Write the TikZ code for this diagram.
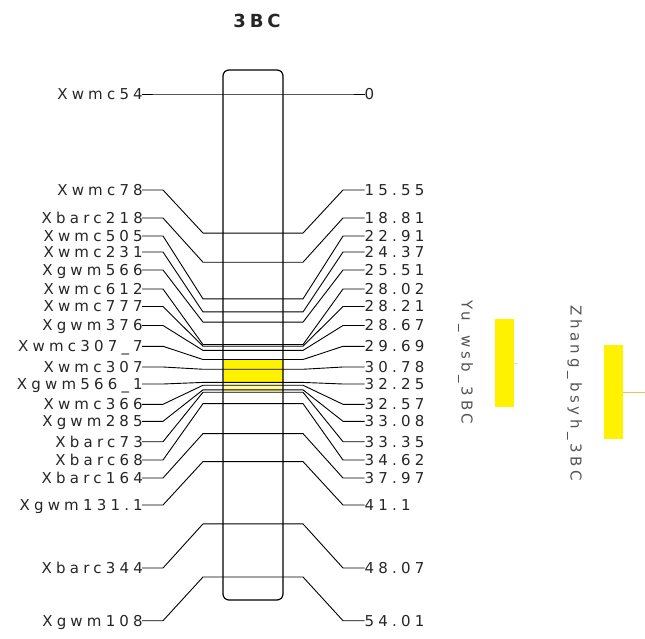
\documentclass[tikz,border=0pt]{standalone}
\usepackage{fontspec}
\newfontfamily\lblfont[LetterSpace=28]{DejaVu Sans}
\newfontfamily\qtlfont[LetterSpace=24]{DejaVu Sans}
\newfontfamily\ttlfont[LetterSpace=22]{DejaVu Sans}
\definecolor{qtlline}{RGB}{215,205,90}
\definecolor{qtltext}{RGB}{85,85,85}
\tikzset{
  lbl/.style={font=\lblfont\fontsize{15}{15}\selectfont, inner sep=0pt, text height=10.9pt, text depth=0pt, text=black!85},
  link/.style={line width=0.9pt, black},
  qtllbl/.style={font=\qtlfont\fontsize{15}{15}\selectfont, inner sep=0pt, text=qtltext, rotate=-90, anchor=west},
}
\begin{document}
\begin{tikzpicture}[x=1pt,y=-1pt]
\useasboundingbox[fill=white] (0,0) rectangle (645,639);
% title
\node[font=\ttlfont\bfseries\fontsize{18}{18}\selectfont, inner sep=0pt, text=black!85] (title) at (257,21) {3BC};
% yellow QTL on chromosome
\fill[yellow] (223.5,359.5) rectangle (282.5,382.4);
\fill[yellow!35] (223.5,382.4) rectangle (282.5,392);
% markers
\foreach \i/\nm/\cm/\ly in {
  1/Xwmc54/0/94,
  2/Xwmc78/15.55/190,
  3/Xbarc218/18.81/218,
  4/Xwmc505/22.91/236,
  5/Xwmc231/24.37/252,
  6/Xgwm566/25.51/270,
  7/Xwmc612/28.02/289,
  8/Xwmc777/28.21/306.5,
  9/Xgwm376/28.67/325.5,
  10/{Xwmc307\_7}/29.69/346.3,
  11/Xwmc307/30.78/367,
  12/{Xgwm566\_1}/32.25/384,
  13/Xwmc366/32.57/404.3,
  14/Xgwm285/33.08/421.3,
  15/Xbarc73/33.35/441.7,
  16/Xbarc68/34.62/460,
  17/Xbarc164/37.97/478,
  18/Xgwm131.1/41.1/505,
  19/Xbarc344/48.07/568,
  20/Xgwm108/54.01/620.7}{
  \pgfmathsetmacro\by{94+8.943*\cm}
  \node[lbl, anchor=east] (l\i) at (143,\ly) {\nm};
  \node[lbl, anchor=west] (r\i) at (364.5,\ly) {\cm};
  \draw[link] ([xshift=-1pt]l\i.east) -- ++(21,0) -- (203,\by) -- (303,\by) -- (343,\ly) -- (r\i.west);
}
% chromosome outline
\node[draw, line width=1.2pt, rounded corners=6pt, minimum width=60pt, minimum height=530pt, inner sep=0pt] (chr) at (253,335) {};
% QTL bars
\fill[yellow] (495,319) rectangle (514,407);
\draw[qtlline!50, line width=0.6pt] (514,363) -- (518,363);
\node[qtllbl] (yu) at (465.5,300) {Yu\_wsb\_3BC};
\fill[yellow] (604,345) rectangle (623,439);
\coordinate (zend) at (645,392);
\draw[qtlline, line width=0.9pt] (623,392) -- (zend);
\node[qtllbl] (zh) at (574.5,305) {Zhang\_bsyh\_3BC};
\end{tikzpicture}
\end{document}
